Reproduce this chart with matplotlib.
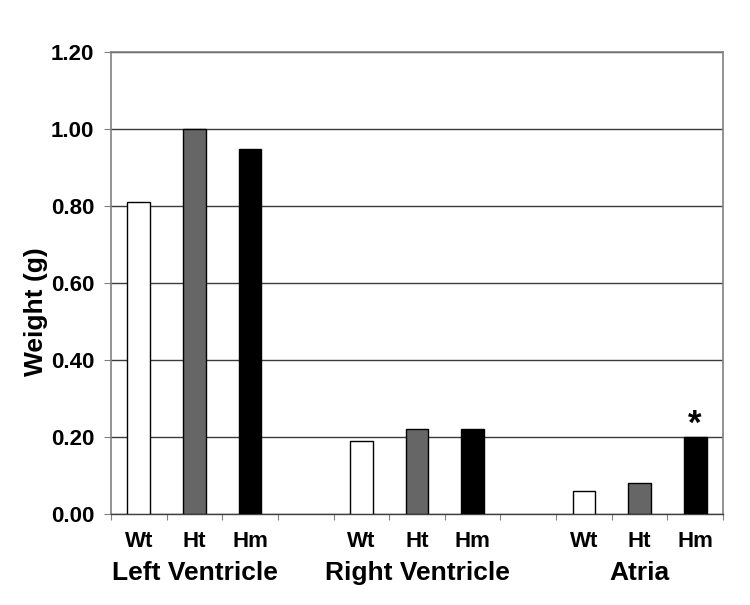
import matplotlib
matplotlib.use("Agg")
import matplotlib.pyplot as plt
import matplotlib.transforms as mtransforms
import numpy as np

plt.rcParams['font.family'] = ['Liberation Sans', 'DejaVu Sans']
plt.rcParams['font.weight'] = 'bold'

groups = ["Left Ventricle", "Right Ventricle", "Atria"]
genotypes = ["Wt", "Ht", "Hm"]
wt_vals = [0.81, 0.19, 0.06]
ht_vals = [1.00, 0.22, 0.08]
hm_vals = [0.95, 0.22, 0.20]
colors = {"Wt": "#ffffff", "Ht": "#666666", "Hm": "#000000"}
yticks = [0.00, 0.20, 0.40, 0.60, 0.80, 1.00, 1.20]
y_label = "Weight (g)"
significant = [(2, "Hm")]  # (group index, genotype) marked with *

series = {"Wt": wt_vals, "Ht": ht_vals, "Hm": hm_vals}

fig = plt.figure(figsize=(7.5, 6.05), dpi=100)
ax = fig.add_axes([0.148, 0.1504, 0.816, 0.763])

slot = 4  # 3 bars + 1 gap per group
bw = 0.41
centers = []
labels = []
for gi in range(len(groups)):
    for ki, g in enumerate(genotypes):
        x = gi * slot + ki
        ax.bar(x, series[g][gi], width=bw, color=colors[g], edgecolor='black',
               linewidth=1.0, zorder=3)
        centers.append(x)
        labels.append(g)

for gi, g in significant:
    x = gi * slot + genotypes.index(g)
    ax.annotate("*", (x, series[g][gi]), xytext=(0, -3), textcoords='offset points',
                ha='center', va='bottom', fontsize=25, fontweight='bold')

ax.set_xlim(-0.5, 10.5)
ax.set_ylim(0, 1.2)
ax.set_yticks(yticks)
ax.set_yticklabels([f"{v:.2f}" for v in yticks], fontsize=16, fontweight='bold')
ax.yaxis.grid(True, color='#3c3c3c', linewidth=1.0, zorder=1)
ax.set_axisbelow(True)

# boundary ticks (unlabeled) and centered labels
ax.set_xticks(np.arange(-0.5, 11.0, 1.0))
ax.set_xticklabels([])
ax.tick_params(axis='x', which='major', length=4, color='#808080', direction='out')
ax.set_xticks(centers, minor=True)
ax.set_xticklabels(labels, minor=True, fontsize=16, fontweight='bold')
ax.tick_params(axis='x', which='minor', length=0, pad=12)
ax.tick_params(axis='y', length=5, color='#808080', pad=7)

ax.set_ylabel(y_label, fontsize=19, fontweight='bold')
ax.yaxis.set_label_coords(-0.103, 0.4375)

for s in ['left', 'top', 'right']:
    ax.spines[s].set_color('#808080')
    ax.spines[s].set_linewidth(1.2)
ax.spines['bottom'].set_color('#404040')
ax.spines['bottom'].set_linewidth(1.0)

trans = mtransforms.blended_transform_factory(ax.transData, ax.transAxes)
for gi, name in enumerate(groups):
    ax.text(gi * slot + 1, -0.128, name, transform=trans, ha='center', va='center',
            fontsize=19, fontweight='bold')

fig.savefig("out.png", dpi=100, facecolor='white')
